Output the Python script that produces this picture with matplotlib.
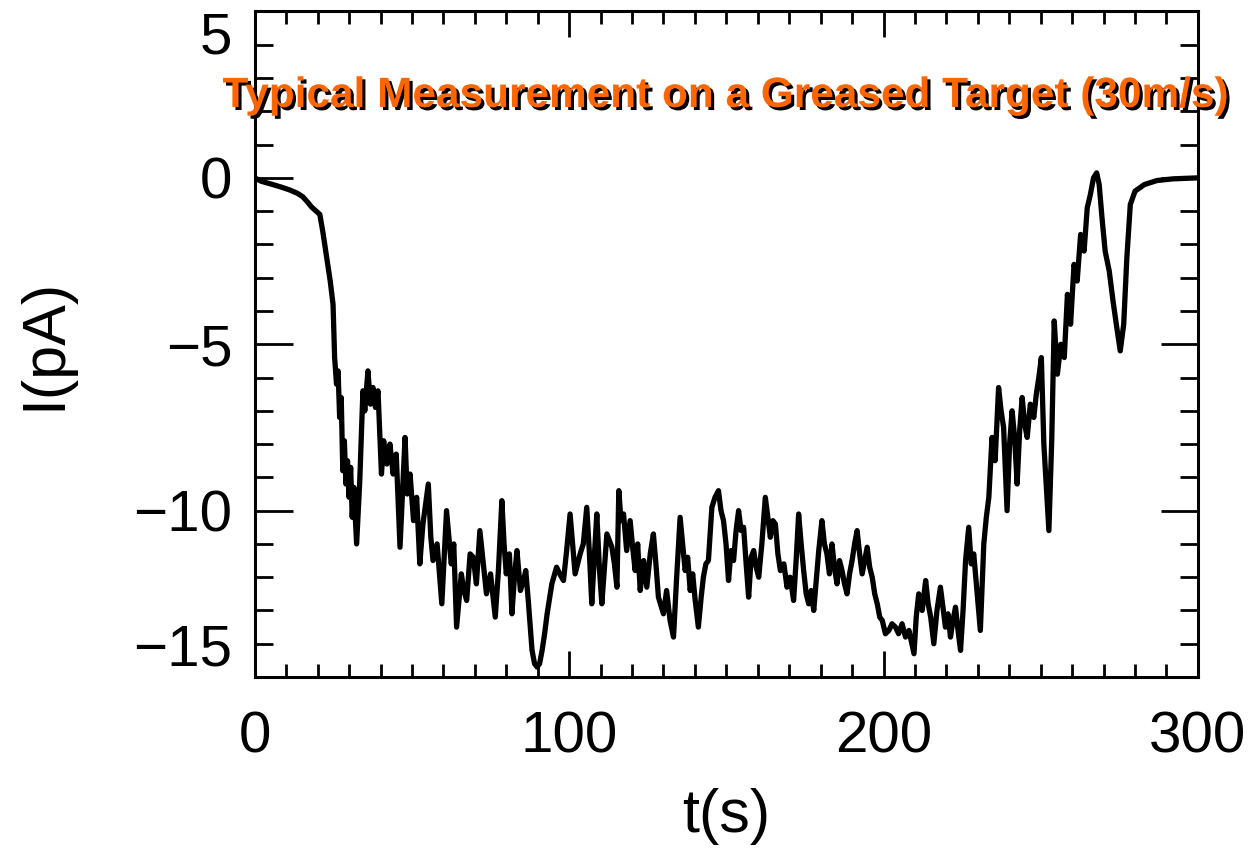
import matplotlib
matplotlib.use("Agg")
import matplotlib.pyplot as plt
import matplotlib.patheffects as pe
from matplotlib.ticker import MultipleLocator

t_s = [0, 2, 5.7, 8.5, 11, 13.5, 15.3, 17, 18, 19.5, 20.7, 21.7, 23, 24, 24.9,
       25.4, 26, 26.5, 27, 27.5, 28, 28.5, 29, 29.5, 30, 30.5, 31, 31.5, 32.4,
       33.4, 34.4, 35, 36, 36.8, 37.6, 38.4, 39.2, 40.3, 41, 42, 43, 44, 45,
       46.2, 47.8, 48.5, 49.4, 50.5, 51.5, 52.5, 53.5, 55.2, 56, 56.7, 58,
       59.5, 61, 62.5, 63.3, 64.2, 65.7, 66.5, 67.4, 68.5, 69.5, 70.5, 71.6,
       72.6, 73.7, 75, 76.5, 77.5, 78.6, 79.3, 80, 81, 81.8, 82.6, 83.4, 84.5,
       85.5, 86.2, 87, 88.2, 89, 89.8, 90.6, 91.4, 92.2, 93, 94.5, 96, 97,
       98.2, 99.2, 100.3, 101.9, 103.5, 104.5, 105.6, 106.4, 107.2, 108, 108.8,
       109.6, 110.4, 112, 113.6, 114.4, 115.2, 115.8, 116.5, 117.3, 118.3,
       119.4, 120.2, 121, 121.8, 122.6, 123.7, 124.7, 125.8, 126.8, 127.6,
       128.4, 130, 131, 132.1, 133.2, 134.2, 135.3, 136.1, 136.9, 137.7, 138.5,
       139.3, 140.1, 141.1, 142, 142.7, 143.5, 144.3, 145.4, 146.4, 147.5,
       148.3, 149.1, 149.9, 150.7, 151.5, 152.3, 153.1, 153.9, 154.7, 155.5,
       156.3, 157.1, 157.9, 158.7, 159.5, 160.3, 161.3, 162.4, 163.2, 164.0,
       164.8, 165.6, 166.4, 167.2, 168.3, 169.3, 170.3, 171.4, 172.2, 173.0,
       173.8, 174.6, 175.4, 176.2, 177, 177.8, 178.6, 179.4, 180.4, 181.2,
       182.0, 182.8, 183.6, 184.4, 185.2, 186.0, 186.8, 187.6, 188.4, 189.2,
       190.0, 190.8, 191.6, 192.4, 193.2, 194.0, 194.8, 195.6, 196.4, 197.2,
       198.0, 198.8, 199.6, 200.6, 201.7, 202.7, 203.8, 204.8, 205.9, 207,
       208.1, 209, 209.7, 210.4, 211.2, 212.3, 213.4, 214.2, 215.0, 216.0,
       217.0, 218.1, 218.9, 219.7, 220.5, 221.3, 222.1, 222.9, 223.7, 224.5,
       225.3, 226.1, 227.1, 227.9, 228.7, 229.7, 230.8, 231.9, 232.7, 233.5,
       234.5, 235.5, 236.6, 237.4, 238.2, 239.3, 240.1, 240.9, 241.7, 242.5,
       243.3, 244.1, 244.9, 245.7, 246.7, 247.8, 248.6, 249.4, 250.2, 251.0,
       251.8, 252.6, 253.5, 254.3, 255.3, 256.4, 257.5, 258.5, 259.5, 260.6,
       261.6, 262.7, 263.8, 264.8, 265.8, 266.8, 267.8, 268.6, 269.5, 270.5,
       271.8, 273, 274.2, 275.3, 276.4, 277.4, 278.5, 280, 283, 287, 292, 300]

i_pA = [0.0, -0.1, -0.2, -0.28, -0.36, -0.46, -0.57, -0.75, -0.87, -1.0, -1.1,
        -1.65, -2.46, -3.1, -3.8, -5.4, -6.2, -5.8, -7.2, -6.6, -8.8, -7.9,
        -9.2, -8.5, -9.6, -8.7, -10.2, -9.3, -11.0, -9.1, -6.4, -7.0, -5.8,
        -6.8, -6.3, -6.9, -6.4, -8.9, -7.9, -8.6, -8.0, -8.9, -8.3, -11.1,
        -7.8, -9.5, -8.9, -10.3, -9.6, -11.6, -10.4, -9.2, -10.8, -11.5, -11.0,
        -12.8, -10.0, -11.6, -11.0, -13.5, -11.9, -12.4, -12.7, -11.3, -11.4,
        -12.2, -10.6, -11.5, -12.5, -11.9, -13.2, -11.8, -9.7, -11.0, -11.9,
        -11.3, -13.1, -12.0, -11.2, -12.4, -12.1, -11.8, -12.7, -14.2, -14.6,
        -14.7, -14.6, -14.2, -13.7, -13.1, -12.2, -11.7, -11.9, -12.1, -11.2,
        -10.1, -11.9, -11.3, -11.0, -9.9, -11.2, -12.8, -11.4, -10.1, -11.7,
        -12.8, -10.7, -11.1, -11.6, -12.3, -9.4, -10.3, -10.1, -11.2, -10.3,
        -11.1, -11.8, -11.0, -12.4, -11.5, -12.3, -11.3, -10.7, -11.6, -12.6,
        -13.1, -12.4, -13.3, -13.8, -12.0, -10.2, -11.0, -11.8, -11.4, -12.4,
        -11.9, -12.7, -13.5, -12.6, -12.0, -11.6, -11.5, -9.9, -9.6, -9.4,
        -10.0, -10.3, -11.0, -12.1, -11.2, -11.5, -10.6, -10.0, -10.6, -10.5,
        -11.6, -12.6, -11.4, -11.2, -11.7, -12.0, -11.0, -9.6, -10.2, -10.8,
        -10.3, -10.4, -11.3, -11.8, -11.6, -12.3, -12.0, -12.7, -11.5, -10.1,
        -11.0, -11.8, -12.5, -12.8, -12.4, -13.0, -12.1, -11.2, -10.3, -11.0,
        -11.3, -11.9, -11.0, -11.7, -12.2, -11.5, -11.8, -12.2, -12.5, -11.9,
        -11.5, -11.0, -10.6, -11.3, -11.9, -11.5, -11.1, -11.7, -12.0, -12.5,
        -12.8, -13.2, -13.3, -13.7, -13.6, -13.4, -13.5, -13.7, -13.4, -13.8,
        -13.6, -14.0, -14.3, -13.2, -12.5, -13.0, -12.1, -12.8, -13.2, -14.0,
        -13.0, -12.3, -12.9, -13.5, -13.1, -13.8, -13.3, -12.9, -13.6, -14.2,
        -13.0, -11.5, -10.5, -11.6, -11.3, -12.4, -13.6, -11.0, -10.2, -9.6,
        -7.8, -8.5, -6.3, -7.0, -7.5, -10.0, -8.0, -7.0, -7.8, -9.2, -7.6,
        -6.6, -7.4, -7.8, -6.8, -7.2, -6.5, -6.0, -5.4, -8.0, -9.3, -10.6,
        -7.9, -4.3, -5.9, -5.0, -5.4, -3.5, -4.4, -2.6, -3.1, -1.7, -2.2, -0.9,
        -0.5, 0.0, 0.15, -0.2, -1.2, -2.2, -2.8, -3.7, -4.5, -5.2, -4.4, -2.4,
        -0.8, -0.4, -0.2, -0.08, -0.03, 0.0]

title = "Typical Measurement on a Greased Target (30m/s)"

plt.rcParams['font.family'] = ['Liberation Sans', 'DejaVu Sans']

fig = plt.figure(figsize=(12.55, 8.5), dpi=100)
ax = fig.add_axes([0.203, 0.2035, 0.7515, 0.783])

ax.plot(t_s, i_pA, color='black', linewidth=3.8)

ax.set_xlim(0, 300)
ax.set_ylim(-15, 5)
ax.xaxis.set_major_locator(MultipleLocator(100))
ax.xaxis.set_minor_locator(MultipleLocator(10))
ax.yaxis.set_major_locator(MultipleLocator(5))
ax.yaxis.set_minor_locator(MultipleLocator(1))

for s in ax.spines.values():
    s.set_linewidth(2.2)

ax.tick_params(axis='both', which='both', direction='in', top=True, right=True, width=2.0)
ax.tick_params(axis='x', which='major', length=19, pad=24, labelsize=42)
ax.tick_params(axis='x', which='minor', length=9.5)
ax.tick_params(axis='y', which='major', length=27, pad=16, labelsize=42)
ax.tick_params(axis='y', which='minor', length=13)

ax.set_xlabel('t(s)', fontsize=44, labelpad=17)
ax.set_ylabel('I(pA)', fontsize=44, labelpad=43)

ax.text(0.5, 0.8565, title, transform=ax.transAxes, ha='center', va='baseline',
        fontsize=30.5, fontweight='bold', color='#ff6600',
        path_effects=[pe.withSimplePatchShadow(offset=(2.2, -2.2), shadow_rgbFace='black', alpha=1.0)])

# end labels on y stay inside the frame, like the original
fig.canvas.draw()
for tk in ax.yaxis.get_major_ticks():
    loc = tk.get_loc()
    if loc is None:
        continue
    if abs(loc - 5) < 1e-6:
        tk.label1.set_va('top')
    elif abs(loc + 15) < 1e-6:
        tk.label1.set_va('bottom')

fig.savefig('out.png', dpi=100)
